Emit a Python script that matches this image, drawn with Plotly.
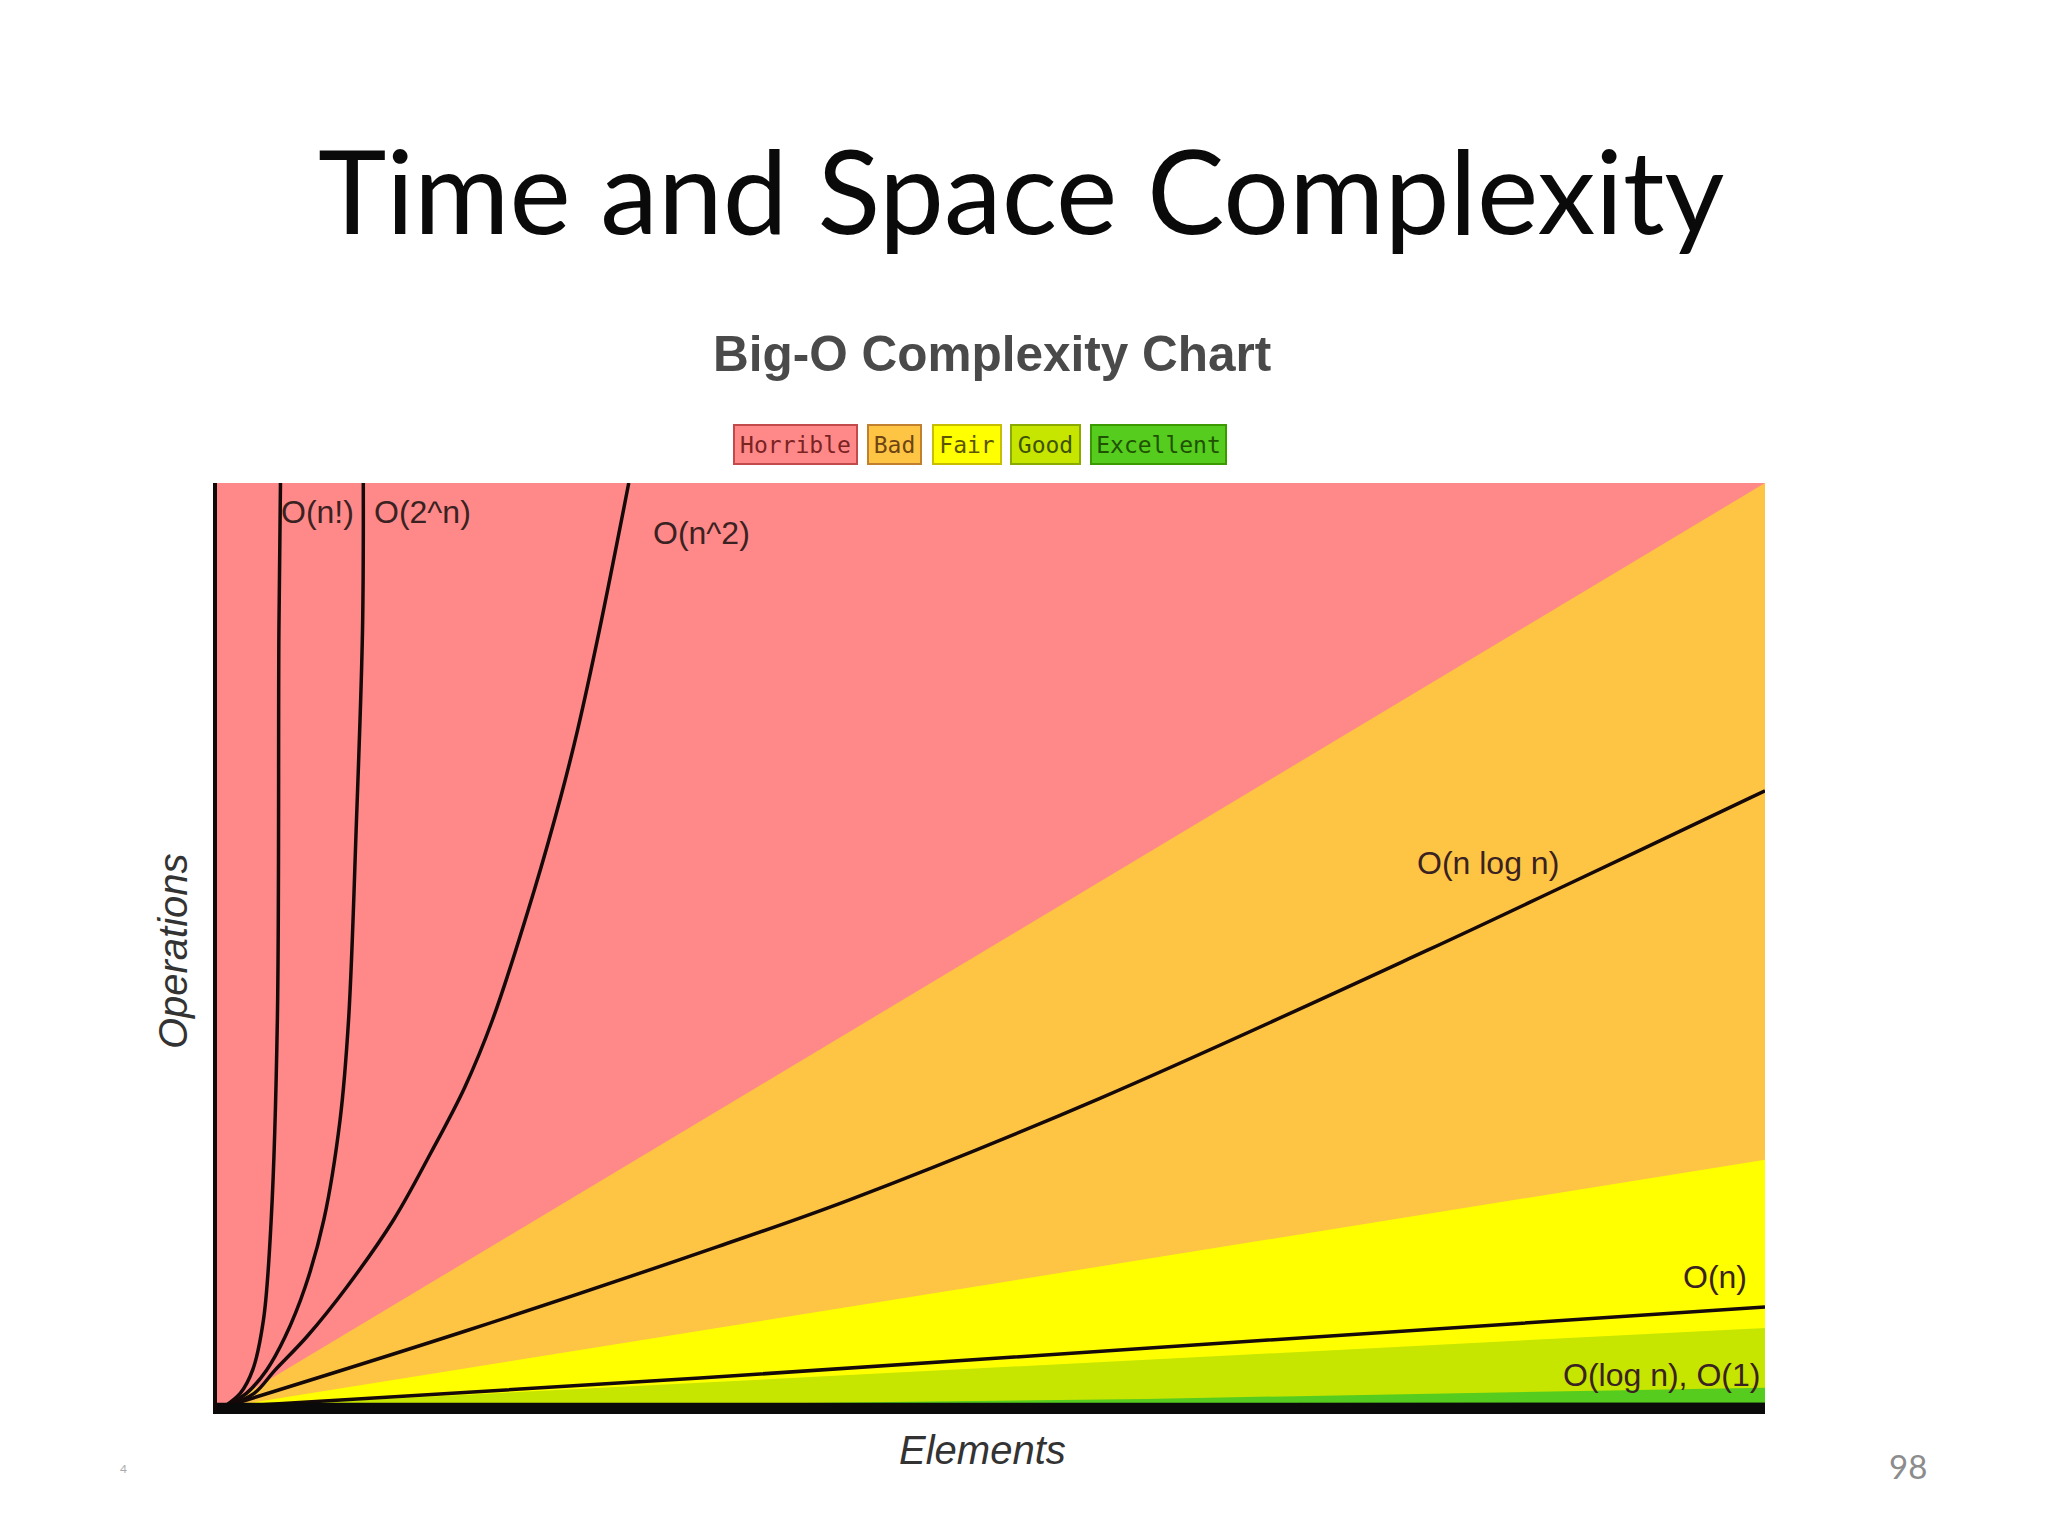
import plotly.graph_objects as go

# Axis scale: elements 0..100 (x), operations 0..100 (y)

# Band boundaries
red_x = [0, 100]
red_y = [100, 100]
bad_x = [0.4, 100]
bad_y = [0.3, 100]
fair_x = [0.4, 100]
fair_y = [0.3, 27.0]
good_x = [0.4, 100]
good_y = [0.3, 8.85]
excellent_x = [30, 60, 100]
excellent_y = [0.6, 1.2, 2.4]

# Complexity curves
fact_x = [0.4, 1.5, 2.3, 3.0, 3.5, 3.9, 4.0, 4.1]
fact_y = [0.3, 1.8, 4.3, 9.7, 20.5, 42.1, 84.1, 100]
exp_x = [0.4, 1.9, 3.2, 4.4, 5.7, 6.9, 7.95, 8.5, 9.0, 9.4, 9.45]
exp_y = [0.3, 1.8, 4.3, 7.9, 13.3, 20.5, 31.3, 42.1, 63.1, 84.1, 100]
sq_x = [0.4, 2.4, 3.75, 5.8, 8.4, 11.4, 13.8, 16.0, 17.8, 20.5, 22.2, 23.3, 24.7, 26.6]
sq_y = [0.3, 1.8, 4.3, 7.9, 13.3, 20.5, 27.7, 34.8, 42.1, 56.1, 66.1, 73.4, 84.1, 100]
nlogn_x = [0.4, 16.2, 32.3, 40.9, 57.0, 78.2, 87.0, 99.0, 100]
nlogn_y = [0.3, 8.6, 17.6, 22.7, 33.6, 49.6, 56.5, 66.0, 66.8]
lin_x = [0.4, 31.2, 64.8, 100]
lin_y = [0.3, 3.45, 7.2, 11.1]
log_x = [0.4, 10, 40, 100]
log_y = [0.3, 0.45, 0.55, 0.6]
const_x = [0, 100]
const_y = [0.35, 0.35]

band_colors = ['#FF8989', '#FEC544', '#FFFF00', '#C6E600', '#55CC1E']
ratings = ['Horrible', 'Bad', 'Fair', 'Good', 'Excellent']
rating_text = ['#7A2323', '#6E4413', '#5C5600', '#3E5200', '#1F5200']
rating_border = ['#C24A4A', '#C0802E', '#C8BE00', '#8AAA00', '#3A9A00']
rating_x = [0.3737, 0.4377, 0.4845, 0.5355, 0.6085]
rating_w = [125, 55, 70, 71, 137]

fig = go.Figure()

# Coloured bands
bands = [(red_x, red_y), (bad_x, bad_y), (fair_x, fair_y), (good_x, good_y), (excellent_x, excellent_y)]
for (bx, by), col in zip(bands, band_colors):
    fig.add_trace(go.Scatter(x=bx, y=by, mode='lines', fill='tozeroy', fillcolor=col,
                             line=dict(width=0, color=col), hoverinfo='skip', showlegend=False))

# Curves
curves = [('O(n!)', fact_x, fact_y), ('O(2^n)', exp_x, exp_y), ('O(n^2)', sq_x, sq_y),
          ('O(n log n)', nlogn_x, nlogn_y), ('O(n)', lin_x, lin_y), ('O(log n)', log_x, log_y)]
for name, cx, cy in curves:
    fig.add_trace(go.Scatter(x=cx, y=cy, mode='lines', name=name, showlegend=False,
                             line=dict(color='#160909', width=3.5, shape='spline', smoothing=1.0)))
fig.add_trace(go.Scatter(x=const_x, y=const_y, mode='lines', name='O(1)', showlegend=False,
                         line=dict(color='#0a0a0a', width=8)))

# Curve labels
label_font = dict(family='Liberation Sans, Arial, sans-serif', size=32, color='#3a2222')
curve_labels = [('O(n!)', 6.5, 96.9), ('O(2^n)', 13.3, 96.9), ('O(n^2)', 31.3, 94.6),
                ('O(n log n)', 82.1, 59.0), ('O(n)', 96.8, 14.4), ('O(log n), O(1)', 93.3, 3.8)]
annotations = []
for txt, lx, ly in curve_labels:
    annotations.append(dict(text=txt, x=lx, y=ly, xref='x', yref='y', showarrow=False,
                            xanchor='center', yanchor='middle', font=label_font))

# Rating boxes
for name, col, tc, bc, rx, rw in zip(ratings, band_colors, rating_text, rating_border, rating_x, rating_w):
    annotations.append(dict(text=name, x=rx, y=1.0415, xref='paper', yref='paper', showarrow=False,
                            xanchor='center', yanchor='middle',
                            font=dict(family='DejaVu Sans Mono, monospace', size=23, color=tc),
                            bgcolor=col, bordercolor=bc, borderwidth=2, borderpad=0,
                            width=rw - 4, height=37))

# Titles and axis labels
paper_text = [
    ('Time and Space Complexity', 0.5195, 1.317, 0, dict(family='Lato, sans-serif', size=116, color='#0a0a0a')),
    ('<b>Big-O Complexity Chart</b>', 0.5006, 1.140, 0,
     dict(family='Liberation Sans, Arial, sans-serif', size=49.5, color='#4a4a4a')),
    ('<i>Operations</i>', -0.0284, 0.4951, -90,
     dict(family='Liberation Sans, Arial, sans-serif', size=40, color='#333333')),
    ('<i>Elements</i>', 0.4942, -0.0431, 0,
     dict(family='Liberation Sans, Arial, sans-serif', size=40, color='#333333')),
    ('98', 1.0924, -0.0604, 0, dict(family='Lato, sans-serif', size=33, color='#8c8c8c')),
    ('4', -0.0601, -0.0636, 0, dict(family='Lato, sans-serif', size=12, color='#aaaaaa')),
]
for txt, px, py, ang, fnt in paper_text:
    annotations.append(dict(text=txt, x=px, y=py, xref='paper', yref='paper', textangle=ang,
                            showarrow=False, xanchor='center', yanchor='middle', font=fnt))

# page body adds an 8px margin, so shift the plot area up/left by that much
fig.update_layout(
    width=2048, height=1536,
    margin=dict(l=209, r=291, t=475, b=134),
    paper_bgcolor='white', plot_bgcolor='white',
    showlegend=False,
    annotations=annotations,
    xaxis=dict(range=[0, 100], showgrid=False, zeroline=False, showticklabels=False, ticks='',
               showline=True, linecolor='#0a0a0a', linewidth=4),
    yaxis=dict(range=[0, 100], showgrid=False, zeroline=False, showticklabels=False, ticks='',
               showline=True, linecolor='#120808', linewidth=4),
)

fig.write_html("out.html")
